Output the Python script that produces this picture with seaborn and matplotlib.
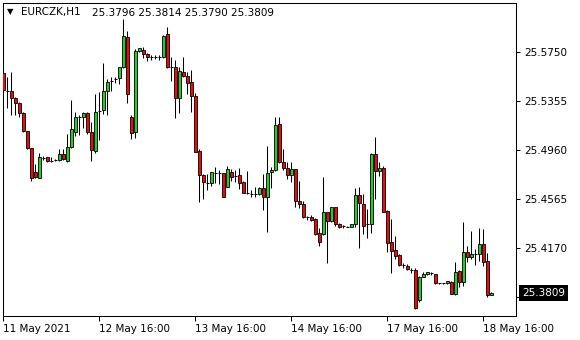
import matplotlib
matplotlib.use("Agg")
import matplotlib.pyplot as plt
import pandas as pd
import seaborn as sns

symbol = "EURCZK,H1"
last_ohlc = [25.3796, 25.3814, 25.3790, 25.3809]

opens = [
    25.5576, 25.5434, 25.5434, 25.5375, 25.5335, 25.5254, 25.5110, 25.4973, 25.4780, 25.4732,
    25.4898, 25.4901, 25.4874, 25.4882, 25.4877, 25.4925, 25.4874, 25.4981, 25.5107, 25.5228,
    25.5222, 25.5254, 25.5102, 25.4954, 25.5276, 25.5284, 25.5434, 25.5517, 25.5528, 25.5536,
    25.5624, 25.5871, 25.5222, 25.5107, 25.5758, 25.5764, 25.5729, 25.5710, 25.5710, 25.5705,
    25.5705, 25.5890, 25.5624, 25.5624, 25.5375, 25.5584, 25.5555, 25.5504, 25.5394, 25.4952,
    25.4759, 25.4692, 25.4692, 25.4775, 25.4775, 25.4772, 25.4665, 25.4780, 25.4751, 25.4759,
    25.4700, 25.4617, 25.4606, 25.4603, 25.4603, 25.4651, 25.4585, 25.4780, 25.4799, 25.5169,
    25.4863, 25.4812, 25.4761, 25.4807, 25.4550, 25.4525, 25.4424, 25.4424, 25.4402, 25.4290,
    25.4282, 25.4458, 25.4391, 25.4499, 25.4365, 25.4346, 25.4343, 25.4338, 25.4362, 25.4595,
    25.4525, 25.4365, 25.4365, 25.4927, 25.4793, 25.4815, 25.4469, 25.4217, 25.4153, 25.4115,
    25.4035, 25.4027, 25.3995, 25.3995, 25.3754, 25.3941, 25.3960, 25.3971, 25.3960, 25.3888,
    25.3888, 25.3888, 25.3901, 25.3805, 25.3989, 25.3901, 25.4142, 25.4097, 25.4123, 25.4126,
    25.4201, 25.4070, 25.3796]

highs = [
    25.5750, 25.5549, 25.5584, 25.5388, 25.5343, 25.5262, 25.5112, 25.4978, 25.4847, 25.4933,
    25.4914, 25.4906, 25.4906, 25.4887, 25.4965, 25.4965, 25.5088, 25.5362, 25.5268, 25.5241,
    25.5268, 25.5262, 25.5187, 25.5407, 25.5429, 25.5656, 25.5530, 25.5549, 25.5544, 25.5630,
    25.6010, 25.5916, 25.5241, 25.5769, 25.5782, 25.5785, 25.5737, 25.5723, 25.5723, 25.5723,
    25.5884, 25.5951, 25.5705, 25.5683, 25.5630, 25.5705, 25.5584, 25.5603, 25.5415, 25.4965,
    25.4764, 25.4764, 25.4785, 25.4826, 25.4799, 25.4772, 25.4831, 25.4807, 25.4799, 25.4812,
    25.4710, 25.4791, 25.4638, 25.4659, 25.4665, 25.4764, 25.4992, 25.4823, 25.5225, 25.5225,
    25.4968, 25.4866, 25.4861, 25.4807, 25.4713, 25.4550, 25.4429, 25.4434, 25.4410, 25.4335,
    25.4745, 25.4464, 25.4501, 25.4501, 25.4373, 25.4359, 25.4349, 25.4362, 25.4657, 25.4662,
    25.4606, 25.4485, 25.4938, 25.5064, 25.4863, 25.4831, 25.4477, 25.4405, 25.4268, 25.4126,
    25.4054, 25.4040, 25.4008, 25.4008, 25.3947, 25.3981, 25.3981, 25.3976, 25.3960, 25.3888,
    25.3888, 25.3904, 25.3906, 25.4056, 25.3995, 25.4378, 25.4188, 25.4308, 25.4161, 25.4330,
    25.4322, 25.4134, 25.3814]

lows = [
    25.5423, 25.5295, 25.5241, 25.5241, 25.5228, 25.5107, 25.4968, 25.4713, 25.4732, 25.4732,
    25.4879, 25.4866, 25.4866, 25.4874, 25.4874, 25.4877, 25.4866, 25.4978, 25.5075, 25.5080,
    25.5139, 25.5086, 25.4874, 25.4938, 25.5040, 25.5246, 25.5241, 25.5434, 25.5496, 25.5493,
    25.5616, 25.5340, 25.5051, 25.5059, 25.5745, 25.5697, 25.5678, 25.5683, 25.5691, 25.5683,
    25.5697, 25.5616, 25.5517, 25.5214, 25.5260, 25.5549, 25.5407, 25.5268, 25.4941, 25.4539,
    25.4563, 25.4638, 25.4673, 25.4692, 25.4684, 25.4585, 25.4665, 25.4713, 25.4705, 25.4643,
    25.4611, 25.4603, 25.4579, 25.4579, 25.4598, 25.4480, 25.4303, 25.4651, 25.4793, 25.4852,
    25.4799, 25.4724, 25.4700, 25.4504, 25.4491, 25.4416, 25.4397, 25.4391, 25.4276, 25.4190,
    25.4276, 25.4049, 25.4378, 25.4351, 25.4330, 25.4335, 25.4338, 25.4338, 25.4343, 25.4174,
    25.4284, 25.4255, 25.4295, 25.4568, 25.4753, 25.4464, 25.4142, 25.3973, 25.4081, 25.4027,
    25.4014, 25.3995, 25.3973, 25.3681, 25.3740, 25.3939, 25.3955, 25.3955, 25.3885, 25.3885,
    25.3885, 25.3885, 25.3799, 25.3794, 25.3861, 25.3869, 25.4062, 25.4083, 25.4035, 25.4067,
    25.4030, 25.3781, 25.3790]

closes = [
    25.5442, 25.5434, 25.5375, 25.5335, 25.5254, 25.5115, 25.4973, 25.4732, 25.4740, 25.4906,
    25.4898, 25.4871, 25.4874, 25.4882, 25.4925, 25.4885, 25.4981, 25.5126, 25.5222, 25.5228,
    25.5254, 25.5102, 25.4962, 25.5268, 25.5276, 25.5434, 25.5504, 25.5517, 25.5528, 25.5624,
    25.5879, 25.5413, 25.5094, 25.5758, 25.5777, 25.5729, 25.5710, 25.5710, 25.5710, 25.5705,
    25.5879, 25.5624, 25.5624, 25.5375, 25.5595, 25.5555, 25.5496, 25.5394, 25.4946, 25.4759,
    25.4700, 25.4692, 25.4780, 25.4775, 25.4775, 25.4585, 25.4804, 25.4745, 25.4751, 25.4692,
    25.4617, 25.4617, 25.4606, 25.4603, 25.4651, 25.4585, 25.4772, 25.4799, 25.5161, 25.4863,
    25.4812, 25.4759, 25.4810, 25.4550, 25.4523, 25.4424, 25.4424, 25.4397, 25.4284, 25.4223,
    25.4458, 25.4391, 25.4499, 25.4365, 25.4338, 25.4346, 25.4343, 25.4362, 25.4595, 25.4536,
    25.4351, 25.4365, 25.4927, 25.4793, 25.4815, 25.4464, 25.4215, 25.4150, 25.4110, 25.4032,
    25.4035, 25.4000, 25.3995, 25.3687, 25.3941, 25.3963, 25.3976, 25.3971, 25.3888, 25.3888,
    25.3888, 25.3904, 25.3805, 25.3981, 25.3896, 25.4137, 25.4097, 25.4123, 25.4123, 25.4201,
    25.4062, 25.3796, 25.3809]

x_tick_bars = [0, 24, 48, 72, 96, 120]
x_tick_labels = ["11 May 2021", "12 May 16:00", "13 May 16:00",
                 "14 May 16:00", "17 May 16:00", "18 May 16:00"]
y_ticks = [25.5750, 25.5355, 25.4960, 25.4565, 25.4170, 25.3775]

sns.set_theme(style="white")
plt.rcParams["font.family"] = ["DejaVu Sans"]

df = pd.DataFrame({"open": opens, "high": highs, "low": lows, "close": closes})
df["bar"] = range(len(df))

W, H = 580, 340
fig = plt.figure(figsize=(W / 100, H / 100), dpi=100)
fig.patch.set_facecolor("white")
ax = fig.add_axes([3 / W, 1 - 316 / H, 513 / W, 313 / H])
ax.set_facecolor("white")

GREEN = "#33c433"
RED = "#e01010"
LW = 0.75
BODY_LW = 0.6

ax.vlines(df["bar"], df["low"], df["high"], colors="black", linewidth=LW, zorder=2)

bull = df[df["close"] > df["open"]]
bear = df[df["close"] < df["open"]]
doji = df[df["close"] == df["open"]]

ax.bar(bull["bar"], bull["close"] - bull["open"], bottom=bull["open"], width=0.66,
       color=GREEN, edgecolor="black", linewidth=BODY_LW, zorder=3)
ax.bar(bear["bar"], bear["open"] - bear["close"], bottom=bear["close"], width=0.66,
       color=RED, edgecolor="black", linewidth=BODY_LW, zorder=3)
ax.hlines(doji["close"], doji["bar"] - 0.35, doji["bar"] + 0.35, colors="black",
          linewidth=LW, zorder=3)

ax.set_xlim(-0.075, 128.2)
ax.set_ylim(25.3625, 25.6142)

ax.set_xticks(x_tick_bars)
ax.set_xticklabels(x_tick_labels, ha="left")
ax.set_yticks(y_ticks)
ax.set_yticklabels([f"{v:.4f}" for v in y_ticks])
ax.yaxis.tick_right()
ax.tick_params(axis="y", direction="out", length=3, width=LW, pad=3,
               labelsize=7.5, colors="black", left=False, right=True)
ax.tick_params(axis="x", direction="out", length=3.5, width=LW, pad=2,
               labelsize=7.5, colors="black", bottom=True)
ax.grid(False)
for s in ax.spines.values():
    s.set_visible(True)
    s.set_color("black")
    s.set_linewidth(LW)

fig.text(21 / W, 1 - 12.5 / H, symbol, fontsize=7.5, va="center", ha="left", color="black")
fig.text(92 / W, 1 - 12.5 / H, " ".join(f"{v:.4f}" for v in last_ohlc),
         fontsize=7.5, va="center", ha="left", color="black")
fig.text(10.5 / W, 1 - 12 / H, "\u25BC", fontsize=6, va="center", ha="center", color="black")

ax.annotate(f"{last_ohlc[3]:.4f}", xy=(1, last_ohlc[3]), xycoords=("axes fraction", "data"),
            xytext=(4.3, 0), textcoords="offset points", va="center", ha="left",
            fontsize=7.5, color="white", annotation_clip=False, zorder=10,
            bbox=dict(boxstyle="square,pad=0.3", fc="black", ec="none"))

fig.savefig("out.png", dpi=100, facecolor="white")
